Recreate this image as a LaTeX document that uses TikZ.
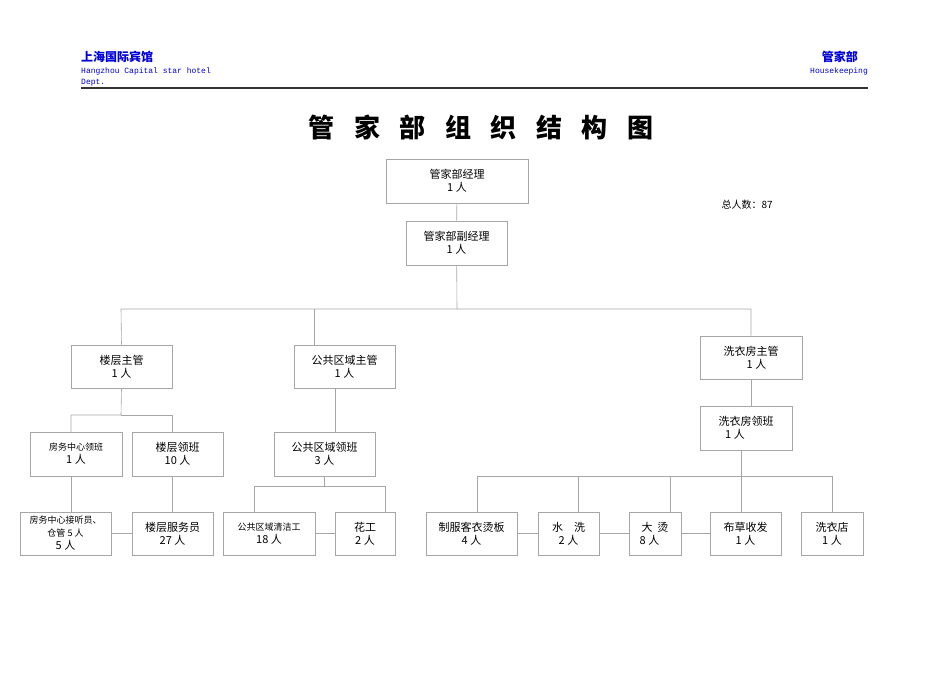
\documentclass[tikz,border=0pt]{standalone}
\usepackage{fontspec}
\setmainfont{Liberation Serif}
\newfontfamily\cjk{Noto Sans CJK SC}
\newfontfamily\monof{Liberation Mono}
\begin{document}
\begin{tikzpicture}[x=1pt,y=-1pt,
  bx/.style={draw=gray!70,line width=0.6pt,inner sep=0pt,align=center,font=\cjk\fontsize{11}{13}\selectfont},
  ln/.style={draw=gray!70,line width=0.6pt}]
\useasboundingbox (0,0) rectangle (950,672);
\newcommand\bx[6]{\node[bx,minimum width={#4-#2},minimum height={#5-#3}] (#1) at ({(#2+#4)/2},{(#3+#5)/2}) {#6};}
% header
\node[anchor=west,inner sep=0pt,text=blue!85!black,font=\cjk\bfseries\fontsize{12}{14}\selectfont] (h1) at (81,57) {上海国际宾馆};
\node[anchor=west,text=blue!85!black,font=\monof\fontsize{8}{10}\selectfont,inner sep=0pt] (h2) at (81,71) {Hangzhou Capital star hotel};
\node[anchor=west,text=blue!85!black,font=\monof\fontsize{8}{10}\selectfont,inner sep=0pt] (h3) at (81,83) {Dept.};
\node[anchor=east,inner sep=0pt,text=blue!85!black,font=\cjk\bfseries\fontsize{12}{14}\selectfont] (h4) at (858,57) {管家部};
\node[anchor=east,text=blue!85!black,font=\monof\fontsize{8}{10}\selectfont,inner sep=0pt] (h5) at (868,71) {Housekeeping};
\draw[line width=1.5pt,black!80] (81,88) -- (868,88);
\node[font=\cjk\bfseries\fontsize{26}{30}\selectfont] (title) at (481,127) {管\hspace{0.75em}家\hspace{0.75em}部\hspace{0.75em}组\hspace{0.75em}织\hspace{0.75em}结\hspace{0.75em}构\hspace{0.75em}图};
\node[anchor=west,font=\cjk\fontsize{10}{12}\selectfont] (tot) at (718,205) {总人数：87};
% boxes
\bx{m}{386}{159}{528}{203}{管家部经理\\1 人}
\bx{d}{406}{221}{507}{265}{管家部副经理\\1 人}
\bx{lz}{71}{345}{172}{388}{楼层主管\\1 人}
\bx{gz}{294}{345}{395}{388}{公共区域主管\\1 人}
\bx{xz}{700}{336}{802}{379}{洗衣房主管\\\hspace*{1em}1 人}
\bx{fl}{30}{432}{122}{476}{{\fontsize{9}{11}\selectfont 房务中心领班}\\1 人}
\bx{ll}{132}{432}{223}{476}{楼层领班\\10 人}
\bx{gl}{274}{432}{375}{476}{公共区域领班\\3 人}
\bx{xl}{700}{406}{792}{450}{洗衣房领班\\1 人\hspace*{2em}}
\bx{b1}{20}{512}{111}{555}{{\fontsize{9}{11}\selectfont 房务中心接听员、}\\{\fontsize{9}{11}\selectfont 仓管 5 人\hspace*{3.3em}}\\5 人}
\bx{b2}{132}{512}{213}{555}{楼层服务员\\27 人}
\bx{b3}{223}{512}{315}{555}{{\fontsize{9}{11}\selectfont 公共区域清洁工}\\18 人}
\bx{b4}{335}{512}{395}{555}{花工\\2 人}
\bx{b5}{426}{512}{517}{555}{制服客衣烫板\\4 人}
\bx{b6}{538}{512}{599}{555}{水\quad 洗\\2 人}
\bx{b7}{629}{512}{681}{555}{大\ \ 烫\\8 人\hspace*{1em}}
\bx{b8}{710}{512}{781}{555}{布草收发\\1 人}
\bx{b9}{801}{512}{863}{555}{洗衣店\\1 人}
% connectors
\draw[ln] (m) -- (d);
\coordinate (j1) at (457,309);
\draw[ln] (d) -- (j1);
\draw[ln] (lz.north) -- (121,309) -- (751,309) -- (xz.north);
\draw[ln] (314,309) -- (314,345);
\draw[ln] (lz.south) -- (121,415) -- (71,415) -- (71,432);
\draw[ln] (121,415) -- (172,415) -- (172,432);
\draw[ln] (71,476) -- (71,512);
\draw[ln] (172,476) -- (172,512);
\draw[ln] (335,388) -- (335,432);
\draw[ln] (gl.south) -- (324.5,486);
\draw[ln] (254,512) -- (254,486) -- (385,486) -- (385,512);
\draw[ln] (xz.south) -- (xz.south |- xl.north);
\draw[ln] (741,450) -- (741,476);
\draw[ln] (477,512) -- (477,476) -- (832,476) -- (832,512);
\foreach \x in {578,670,741} \draw[ln] (\x,476) -- (\x,512);
\draw[ln] (b1) -- (b2);
\draw[ln] (b3) -- (b4);
\draw[ln] (b5) -- (b6);
\draw[ln] (b6) -- (b7);
\draw[ln] (b7) -- (b8);
\end{tikzpicture}
\end{document}
